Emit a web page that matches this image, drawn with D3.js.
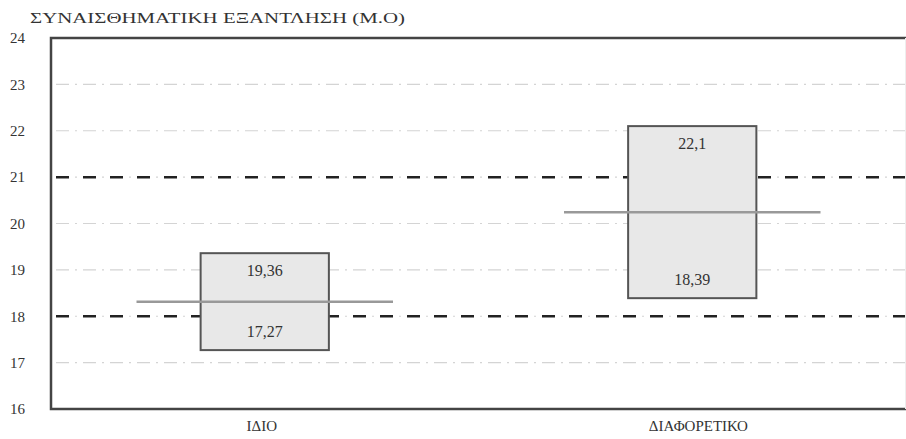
<!DOCTYPE html>
<html><head><meta charset="utf-8">
<script src="https://cdn.jsdelivr.net/npm/d3@7"></script>
<style>body{margin:0;background:#fff}svg{display:block}</style>
</head><body><svg id="c" width="906" height="439"></svg>
<script>
const categories = ["ΙΔΙΟ", "ΔΙΑΦΟΡΕΤΙΚΟ"];
const upperValues = [19.36, 22.1];
const lowerValues = [17.27, 18.39];
const upperLabels = ["19,36", "22,1"];
const lowerLabels = ["17,27", "18,39"];
const yTicks = [16, 17, 18, 19, 20, 21, 22, 23, 24];
const refLines = [18, 21];
const title = "ΣΥΝΑΙΣΘΗΜΑΤΙΚΗ ΕΞΑΝΤΛΗΣΗ (Μ.Ο)";

const FONT = '"Liberation Serif", "Times New Roman", "DejaVu Serif", serif';
const svg = d3.select("#c");
const y = d3.scaleLinear().domain([16, 24]).range([409, 38]);
const x = d3.scaleBand().domain(categories).range([51, 906]);

svg.append("text").attr("x", 30).attr("y", 23).attr("font-size", 15.5).attr("font-family", FONT)
  .attr("fill", "#333").attr("textLength", 375).attr("lengthAdjust", "spacingAndGlyphs").text(title);

// gridlines
const inner = yTicks.filter(t => t > 16 && t < 24);
const grid = svg.append("g");
grid.selectAll("line.light").data(inner).join("line").attr("class", "light")
  .attr("x1", 52).attr("x2", 906).attr("y1", d => y(d)).attr("y2", d => y(d))
  .attr("stroke", "#d4d4d4").attr("stroke-width", 1.2)
  .attr("stroke-dasharray", "13,6,2,6").attr("stroke-dashoffset", -4);
grid.selectAll("line.dark").data(refLines).join("line").attr("class", "dark")
  .attr("x1", 52).attr("x2", 906).attr("y1", d => y(d)).attr("y2", d => y(d))
  .attr("stroke", "#222").attr("stroke-width", 2.5)
  .attr("stroke-dasharray", "13,14").attr("stroke-dashoffset", -4);

// y labels
const yAxis = d3.axisLeft(y).tickValues(yTicks).tickSize(0).tickPadding(0);
const ga = svg.append("g").attr("transform", "translate(25,0)").call(yAxis);
ga.select(".domain").remove();
ga.attr("font-family", FONT);
ga.selectAll("text").attr("font-size", 15).attr("fill", "#333").attr("font-family", FONT);

// boxes
const bw = x.bandwidth() * 0.3;
const cx = d => x(d) + x.bandwidth() / 2;
const g = svg.append("g").attr("font-family", FONT);
categories.forEach((c, i) => {
  g.append("rect").attr("x", cx(c) - bw / 2).attr("y", y(upperValues[i]))
    .attr("width", bw).attr("height", y(lowerValues[i]) - y(upperValues[i]))
    .attr("fill", "#e8e8e8").attr("stroke", "#555").attr("stroke-width", 2);
});
categories.forEach((c, i) => {
  const mean = (upperValues[i] + lowerValues[i]) / 2;
  const lw = x.bandwidth() * 0.6;
  g.append("line").attr("x1", cx(c) - lw / 2).attr("x2", cx(c) + lw / 2)
    .attr("y1", y(mean)).attr("y2", y(mean)).attr("stroke", "#999").attr("stroke-width", 2.5);
  g.append("text").attr("x", cx(c)).attr("y", y(upperValues[i]) + 23).attr("text-anchor", "middle")
    .attr("font-size", 16).attr("fill", "#333").text(upperLabels[i]);
  g.append("text").attr("x", cx(c)).attr("y", y(lowerValues[i]) - 13).attr("text-anchor", "middle")
    .attr("font-size", 16).attr("fill", "#333").text(lowerLabels[i]);
});

// frame
svg.append("path").attr("d", `M906,38 H51 V409 H906`).attr("fill", "none").attr("stroke", "#444").attr("stroke-width", 2.5);
svg.append("line").attr("x1", 905.5).attr("x2", 905.5).attr("y1", 38).attr("y2", 409).attr("stroke", "#eee");

// x labels
const xAxis = d3.axisBottom(x).tickSize(0).tickPadding(0);
const gx = svg.append("g").attr("transform", "translate(0,423)").call(xAxis);
gx.select(".domain").remove();
gx.attr("font-family", FONT);
gx.selectAll("text").attr("font-size", 15).attr("fill", "#333").attr("font-family", FONT).attr("dy", "0.5em")
  .attr("dx", (d, i) => i === 1 ? 6 : -3);
</script></body></html>
